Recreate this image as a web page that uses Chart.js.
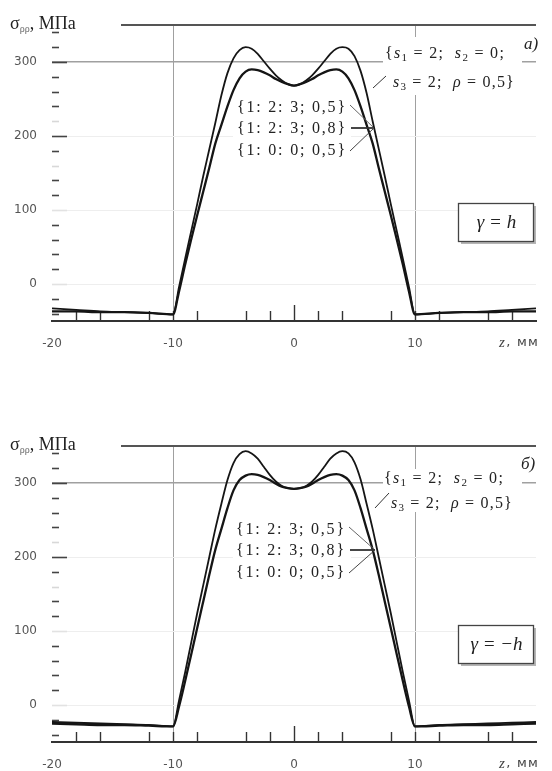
<!DOCTYPE html>
<html><head><meta charset="utf-8">
<script src="https://cdn.jsdelivr.net/npm/chart.js@4"></script>
<style>
html,body{margin:0;padding:0;background:#fff;width:552px;height:771px;overflow:hidden}
.wrap{position:absolute;left:0;width:552px}
#wa{top:0;height:385px}
#wb{top:385px;height:386px}
canvas{display:block}
</style></head><body>
<div class="wrap" id="wa"><canvas id="ca" width="552" height="385"></canvas></div>
<div class="wrap" id="wb"><canvas id="cb" width="552" height="386"></canvas></div>
<script>
// ---- data (z in mm, sigma in MPa) ----
const zValues = [-20,-18,-16,-14,-12,-10,-9.5,-9,-8.5,-8,-7.5,-7,-6.5,-6,-5.5,-5,-4.5,-4,-3.5,-3,-2.5,-2,-1.5,-1,-0.5,0,
  0.5,1,1.5,2,2.5,3,3.5,4,4.5,5,5.5,6,6.5,7,7.5,8,8.5,9,9.5,10,12,14,16,18,20];
// panel a) gamma = h
const aOuter = [-33,-35,-37,-38,-39,-41,-4,34,71,108,146,182,218,255,285,305,316,320,318,311,301,291,282,275,270,268,
  270,275,282,291,301,311,318,320,318,308,288,258,220,183,146,108,71,34,-4,-41,-39,-38,-37,-35,-33];
const aInner = [-37,-37,-38,-38,-39,-41,-10,26,60,93,125,157,190,215,240,262,278,287,290,289,286,282,277,273,270,268,
  270,273,277,282,286,289,290,287,278,262,240,215,190,157,125,93,60,26,-10,-41,-39,-38,-38,-37,-37];
// panel б) gamma = -h
const bOuter = [-23,-24,-25,-26,-27,-29,6,44,84,124,162,200,238,272,304,327,339,343,340,333,322,311,302,296,293,292,
  293,296,302,311,322,333,340,343,340,328,305,272,238,200,162,124,84,44,6,-29,-27,-26,-25,-24,-23];
const bInner = [-25,-26,-27,-27,-28,-29,-2,32,68,104,140,176,210,238,266,290,304,310,312,311,308,304,299,295,293,292,
  293,295,299,304,308,311,312,310,304,290,266,238,210,176,140,104,68,32,-2,-29,-28,-27,-27,-26,-25];

const xLabelTicks = [-20,-10,0,10,20];
const xTickText = {'-20':'-20','-10':'-10','0':'0','10':'10','20':''};
const xTickMarks = [-18,-16,-12,-10,-8,-4,-2,0,2,4,8,10,12,16,18];
const yLabelTicks = [0,100,200,300];
const yTickMarks = [-40,-20,0,20,40,60,80,100,120,140,160,180,200,220,240,260,280,300,320,340];
const yMin = -50, yMax = 350, xMin = -20, xMax = 20;

const outerLabel = '{s1 = 2; s2 = 0; s3 = 2; ρ = 0,5}';
const innerLabel = '{1: 2: 3; 0,5} {1: 2: 3; 0,8} {1: 0: 0; 0,5}';
const groupLabels = ['{1: 2: 3; 0,5}','{1: 2: 3; 0,8}','{1: 0: 0; 0,5}'];

const SERIF = '"Liberation Serif","DejaVu Serif",serif';
const SANS = '"DejaVu Sans",sans-serif';

function pts(arr){ return zValues.map((z,i)=>({x:z,y:arr[i]})); }

function rich(ctx, x, y, segs, spacing){
  let cx = x;
  ctx.letterSpacing = spacing || '0px';
  for (const s of segs){
    ctx.font = s[1];
    ctx.fillStyle = s[3] || '#222';
    ctx.fillText(s[0], cx, y + (s[2]||0));
    cx += ctx.measureText(s[0]).width;
  }
  ctx.letterSpacing = '0px';
  return cx;
}

function line(ctx,x1,y1,x2,y2,col,w){
  ctx.beginPath(); ctx.moveTo(x1,y1); ctx.lineTo(x2,y2);
  ctx.strokeStyle=col; ctx.lineWidth=w; ctx.stroke();
}

function decor(cfg){
  return {
    id:'decor',
    beforeDatasetsDraw(chart){
      const ctx = chart.ctx, xs = chart.scales.x, ys = chart.scales.y, a = chart.chartArea;
      ctx.save();
      ctx.fillStyle = '#fff';
      for (const r of cfg.clear) ctx.fillRect(r[0], r[1], r[2], r[3]);
      const ty = ys.getPixelForValue(yMax);
      line(ctx, 121, ty, a.right, ty, '#555', 2);
      for (const v of yTickMarks){
        const yy = Math.round(ys.getPixelForValue(v)) + 0.5;
        const major = v % 100 === 0;
        let col = '#444';
        if (v === 0 || v === 100) col = '#e2e2e2';
        if (v === 220 || v === 160) col = '#d8d8d8';
        line(ctx, a.left, yy, a.left + (major ? 15 : 7), yy, col, 1.6);
      }
      for (const v of xTickMarks){
        const xx = Math.round(xs.getPixelForValue(v)) + 0.5;
        line(ctx, xx, a.bottom, xx, a.bottom - (v === 0 ? 16 : 10), '#333', 1.4);
      }
      ctx.restore();
    },
    afterDatasetsDraw(chart){
      const ctx = chart.ctx, xs = chart.scales.x, ys = chart.scales.y, a = chart.chartArea;
      ctx.save();
      ctx.textBaseline = 'middle';
      ctx.textAlign = 'left';
      const ty = ys.getPixelForValue(yMax);
      rich(ctx, 10, ty - 1, [
        ['σ', '18px '+SERIF], ['ρρ', '10px '+SERIF, 5, '#666'], [', МПа', '18px '+SERIF]
      ]);
      rich(ctx, cfg.letter[0], cfg.letter[1], [[cfg.letter[2], 'italic 17px '+SERIF]]);
      const f = '16px '+SERIF, fi = 'italic 16px '+SERIF, fs = '11px '+SERIF;
      rich(ctx, cfg.b1[0], cfg.b1[1], [
        ['{', f], ['s', fi], ['1', fs, 4], [' = 2;  ', f], ['s', fi], ['2', fs, 4], [' = 0;', f]
      ], '1.3px');
      rich(ctx, cfg.b2[0], cfg.b2[1], [
        ['s', fi], ['3', fs, 4], [' = 2;  ', f], ['ρ', fi], [' = 0,5}', f]
      ], '1.2px');
      line(ctx, cfg.lead[0], cfg.lead[1], cfg.lead[2], cfg.lead[3], '#333', 1);
      for (let i=0;i<groupLabels.length;i++){
        rich(ctx, cfg.g.x, cfg.g.ys[i], [[groupLabels[i], '16px '+SERIF]], '1.8px');
      }
      const px = cfg.g.px, py = cfg.g.py, ex = cfg.g.ex;
      line(ctx, ex, cfg.g.ys[0]-3, px, py, '#666', 1);
      line(ctx, ex+1, py, px, py, '#333', 1.8);
      line(ctx, ex, cfg.g.ys[2], px, py, '#444', 1);
      const bx = cfg.box[0], by = cfg.box[1], bw = 75, bh = 38;
      ctx.fillStyle = '#b5b5b5';
      ctx.fillRect(bx+3, by+3, bw, bh);
      ctx.fillStyle = '#fff';
      ctx.fillRect(bx, by, bw, bh);
      ctx.strokeStyle = '#444'; ctx.lineWidth = 1.3;
      ctx.strokeRect(bx+0.5, by+0.5, bw, bh);
      ctx.textAlign = 'center';
      ctx.fillStyle = '#222';
      ctx.font = 'italic 19px '+SERIF;
      ctx.fillText(cfg.boxText, bx + bw/2 + 1, by + bh/2 + 1);
      ctx.textAlign = 'left';
      rich(ctx, 499, a.bottom + 22, [['z', 'italic 15px '+SERIF, 0, '#444'], [', мм', '13px '+SANS, 0, '#444']], '1.3px');
      ctx.restore();
    }
  };
}

function makeChart(id, outer, inner, cfg){
  return new Chart(document.getElementById(id), {
    type:'line',
    data:{datasets:[
      {label:outerLabel, data:pts(outer), borderColor:'#151515', borderWidth:1.8, pointRadius:0,
       cubicInterpolationMode:'monotone', fill:false},
      {label:innerLabel, data:pts(inner), borderColor:'#151515', borderWidth:2.3, pointRadius:0,
       cubicInterpolationMode:'monotone', fill:false}
    ]},
    options:{
      responsive:false, animation:false, events:[],
      layout:{padding:{top:cfg.padTop, right:12, left:0, bottom:0}},
      plugins:{legend:{display:false}, tooltip:{enabled:false}},
      scales:{
        x:{type:'linear', min:xMin, max:xMax,
          afterBuildTicks:s=>{ s.ticks = xLabelTicks.map(v=>({value:v})); },
          afterFit:s=>{ s.height = cfg.xAxisHeight; },
          ticks:{callback:v=>xTickText[String(v)] ?? '', padding:16, autoSkip:false, maxRotation:0,
            font:{family:'DejaVu Sans', size:12}, color:'#555'},
          grid:{drawTicks:false, lineWidth:1,
            color:c=>(c.tick && Math.abs(c.tick.value)===10) ? '#a0a0a0' : 'rgba(0,0,0,0)'},
          border:{display:true, color:'#333', width:2}
        },
        y:{type:'linear', min:yMin, max:yMax,
          afterBuildTicks:s=>{ s.ticks = yLabelTicks.map(v=>({value:v})); },
          afterFit:s=>{ s.width = 52; },
          ticks:{padding:15, font:{family:'DejaVu Sans', size:12}, color:'#555'},
          grid:{drawTicks:false,
            lineWidth:c=>(c.tick && c.tick.value===300) ? 1.5 : 1,
            color:c=>(c.tick && c.tick.value===300) ? '#a0a0a0' : '#eeeeee'},
          border:{display:false}
        }
      }
    },
    plugins:[decor(cfg)]
  });
}

makeChart('ca', aOuter, aInner, {
  padTop:25, xAxisHeight:64,
  clear:[[383,37,139,58],[233,95,118,68]],
  letter:[524,45,'а)'],
  b1:[385,54], b2:[393,83], lead:[373,88,386,76],
  g:{x:237, ys:[108,129,151], ex:350, px:374, py:128},
  box:[458,203], boxText:'γ = h'
});
makeChart('cb', bOuter, bInner, {
  padTop:61, xAxisHeight:29,
  clear:[[383,84,139,43],[233,132,118,68]],
  letter:[521,80,'б)'],
  b1:[384,94], b2:[391,119], lead:[375,123,389,108],
  g:{x:236, ys:[145,166,188], ex:349, px:375, py:165},
  box:[458,240], boxText:'γ = −h'
});
</script>
</body></html>
